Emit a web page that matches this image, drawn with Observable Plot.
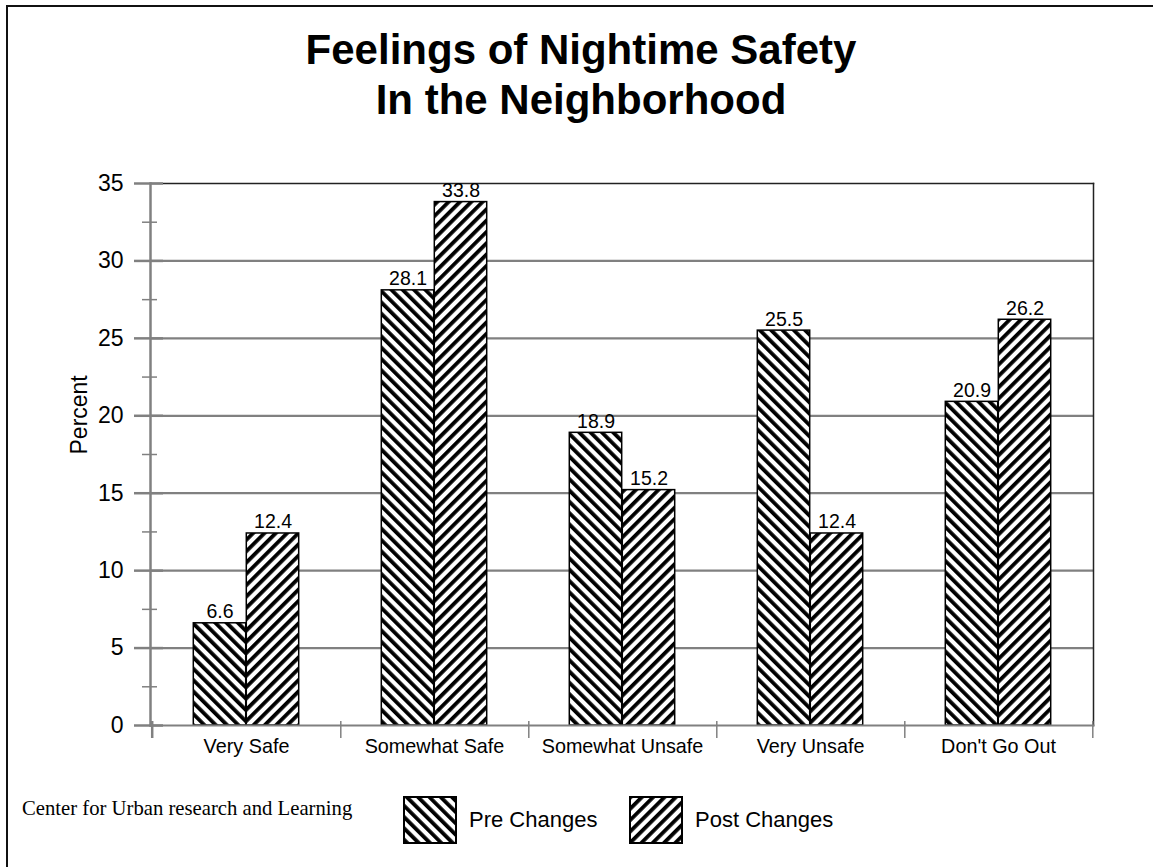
<!DOCTYPE html>
<html>
<head>
<meta charset="utf-8">
<script src="https://cdn.jsdelivr.net/npm/d3@7"></script>
<script src="https://cdn.jsdelivr.net/npm/@observablehq/plot@0.6"></script>
<style>
  body { margin: 0; background: #fff; }
  #page { position: relative; width: 1153px; height: 867px; overflow: hidden; background: #fff;
          font-family: "Liberation Sans", Arial, sans-serif; color: #000; }
  #frame { position: absolute; left: 6px; top: 5px; width: 1200px; height: 900px; z-index: 10; pointer-events: none;
           border-left: 2px solid #111; border-top: 2px solid #111; }
  #title { position: absolute; left: 0; top: 25px; width: 1162px; text-align: center;
           font-weight: bold; font-size: 42px; line-height: 50px; }
  #chart { position: absolute; left: 0; top: 150px; }
  #caption { position: absolute; left: 22px; top: 797px; font-family: "Liberation Serif", "Times New Roman", serif;
             font-size: 20.7px; line-height: 22px; }
  .leg { position: absolute; top: 796px; height: 48px; display: flex; align-items: center; }
  .leg svg { display: block; }
  .leg span { font-size: 22px; margin-left: 12px; }
</style>
</head>
<body>
<div id="page">
  <div id="title">Feelings of Nightime Safety<br>In the Neighborhood</div>
  <div id="chart"></div>
  <div id="caption">Center for Urban research and Learning</div>
  <div id="legend"></div>
  <div id="frame"></div>
</div>
<script>
// ---- data ----
const categories = ["Very Safe", "Somewhat Safe", "Somewhat Unsafe", "Very Unsafe", "Don't Go Out"];
const preChanges = [6.6, 28.1, 18.9, 25.5, 20.9];
const postChanges = [12.4, 33.8, 15.2, 12.4, 26.2];
const seriesNames = ["Pre Changes", "Post Changes"];
const majorTicks = [0, 5, 10, 15, 20, 25, 30, 35];
const minorTicks = [2.5, 7.5, 12.5, 17.5, 22.5, 27.5, 32.5];
const gridValues = [5, 10, 15, 20, 25, 30];
const yLabel = "Percent";

const pre = categories.map((c, i) => ({category: c, value: preChanges[i]}));
const post = categories.map((c, i) => ({category: c, value: postChanges[i]}));

// ---- layout ----
const W = 1153, H = 620, mL = 150, mR = 60, mT = 33, mB = 45;
const bw = (W - mL - mR) / categories.length;
const barW = 53;
const outer = bw / 2 - barW;

function addPattern(defs, id, angle) {
  const p = defs.append("pattern").attr("id", id).attr("patternUnits", "userSpaceOnUse")
    .attr("width", 8).attr("height", 8).attr("patternTransform", `rotate(${angle})`);
  p.append("rect").attr("width", 8).attr("height", 8).attr("fill", "#fff");
  p.append("rect").attr("width", 3.8).attr("height", 8).attr("fill", "#000");
}

const chart = Plot.plot({
  width: W, height: H,
  marginLeft: mL, marginRight: mR, marginTop: mT, marginBottom: mB,
  style: {fontFamily: "'Liberation Sans', Arial, sans-serif", color: "#000", background: "transparent", overflow: "visible"},
  x: {type: "band", domain: categories, padding: 0, label: null},
  y: {domain: [0, 35], label: null},
  marks: [
    Plot.ruleY(gridValues, {stroke: "#808080", strokeWidth: 2.2}),
    Plot.frame({anchor: "top", stroke: "#222", strokeWidth: 1.5}),
    Plot.frame({anchor: "right", stroke: "#222", strokeWidth: 1.5}),
    Plot.barY(pre, {x: "category", y: "value", insetLeft: outer, insetRight: bw / 2,
      fill: "url(#hatchPre)", stroke: "#000", strokeWidth: 1.5}),
    Plot.barY(post, {x: "category", y: "value", insetLeft: bw / 2, insetRight: outer,
      fill: "url(#hatchPost)", stroke: "#000", strokeWidth: 1.5}),
    Plot.text(pre, {x: "category", y: "value", text: d => d.value.toFixed(1), dx: -barW / 2, dy: -5,
      lineAnchor: "bottom", fontSize: 19.5, fill: "#000"}),
    Plot.text(post, {x: "category", y: "value", text: d => d.value.toFixed(1), dx: barW / 2, dy: -5,
      lineAnchor: "bottom", fontSize: 19.5, fill: "#000"}),
    Plot.frame({anchor: "bottom", stroke: "#808080", strokeWidth: 2}),
    Plot.frame({anchor: "left", stroke: "#808080", strokeWidth: 2.5}),
    Plot.axisY({ticks: majorTicks, tickSize: 29, dx: 13, tickPadding: 11, fontSize: 23,
      stroke: "#808080", strokeWidth: 2.5, fill: "#000", tickFormat: d => String(d), label: null}),
    Plot.axisY({ticks: minorTicks, tickSize: 15, dx: 7, text: null, stroke: "#808080", strokeWidth: 1.5, label: null}),
    Plot.axisX({ticks: categories, tickSize: 17, dx: bw / 2, dy: -4, text: null, stroke: "#808080", strokeWidth: 1.5, label: null}),
    Plot.axisX({ticks: [categories[0]], tickSize: 17, dx: -bw / 2, dy: -4, text: null, stroke: "#808080", strokeWidth: 2.5, label: null}),
    Plot.axisX({tickSize: 0, tickPadding: 13, fontSize: 19.8, fill: "#000", label: null}),
    Plot.text([yLabel], {frameAnchor: "left", dx: -71, rotate: -90, fontSize: 23, fill: "#000"})
  ]
});

const defs = d3.select(chart).insert("defs", ":first-child");
addPattern(defs, "hatchPre", -45);
addPattern(defs, "hatchPost", 45);
document.getElementById("chart").appendChild(chart);

// ---- legend ----
const legend = document.getElementById("legend");
const legendItems = [
  {name: seriesNames[0], id: "legPre", angle: -45, left: 403},
  {name: seriesNames[1], id: "legPost", angle: 45, left: 629}
];
legendItems.forEach(item => {
  const div = document.createElement("div");
  div.className = "leg";
  div.style.left = item.left + "px";
  const sw = d3.create("svg").attr("width", 54).attr("height", 48);
  addPattern(sw.append("defs"), item.id, item.angle);
  sw.append("rect").attr("x", 1).attr("y", 1).attr("width", 52).attr("height", 46)
    .attr("fill", `url(#${item.id})`).attr("stroke", "#000").attr("stroke-width", 2);
  div.appendChild(sw.node());
  const span = document.createElement("span");
  span.textContent = item.name;
  div.appendChild(span);
  legend.appendChild(div);
});
</script>
</body>
</html>
